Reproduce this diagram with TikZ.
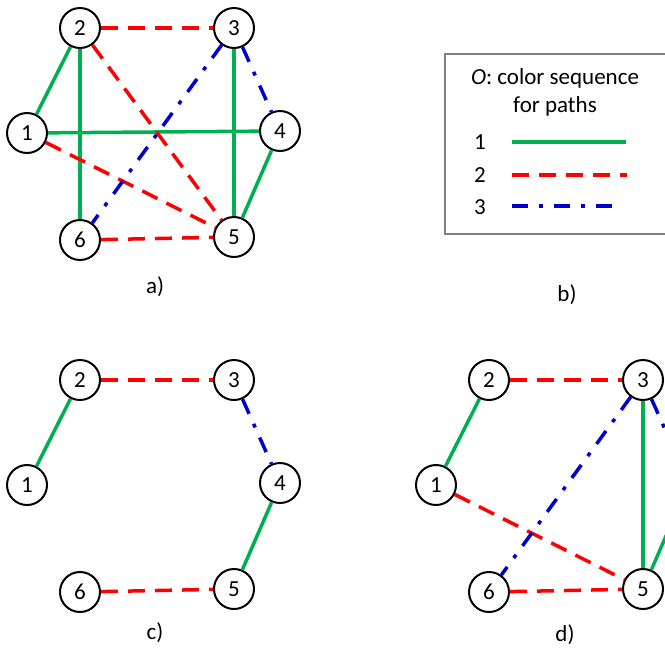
\documentclass[tikz,border=0pt]{standalone}
\usepackage{fontspec}
\setmainfont{Carlito}
\definecolor{pgreen}{RGB}{0,176,80}
\definecolor{pred}{RGB}{255,0,0}
\definecolor{pblue}{RGB}{0,0,204}
\definecolor{pgray}{RGB}{127,127,127}
\begin{document}
\begin{tikzpicture}[x=1pt,y=-1pt,
  vnode/.style={circle,draw=black,line width=2pt,fill=white,minimum size=40pt,inner sep=0pt,font=\fontsize{23}{27}\selectfont},
  lbl/.style={font=\fontsize{23}{27}\selectfont,inner sep=0pt},
  gE/.style={draw=pgreen,line width=3.5pt},
  rE/.style={draw=pred,line width=3.5pt,dash pattern=on 17pt off 10pt},
  bE/.style={draw=pblue,line width=3.5pt,dash pattern=on 16pt off 11pt on 4pt off 11pt}]
\useasboundingbox (0,0) rectangle (665,649);
% panel a
\node[vnode] (a1) at (27,133) {1};
\node[vnode] (a2) at (80,28) {2};
\node[vnode] (a3) at (234,28) {3};
\node[vnode] (a4) at (280,131) {4};
\node[vnode] (a5) at (234,237) {5};
\node[vnode] (a6) at (80,240) {6};
\draw[gE] (a1) -- (a2);
\draw[gE] (a2) -- (a6);
\draw[gE] (a1) -- (a4);
\draw[gE] (a3) -- (a5);
\draw[gE] (a4) -- (a5);
\draw[rE] (a2) -- (a3);
\draw[rE] (a2) -- (a5);
\draw[rE] (a1) -- (a5);
\draw[rE] (a6) -- (a5);
\draw[bE] (a3) -- (a4);
\draw[bE] (a3) -- (a6);
\node[lbl] (la) at (155,287) {a)};
% panel b
\node[draw=pgray,line width=2pt,minimum width=240pt,minimum height=180pt,anchor=north west,inner sep=0pt] (box) at (444,53) {};
\node[lbl] (t1) at (555,78) {\textit{O}: color sequence};
\node[lbl] (t2) at (555,106) {for paths};
\node[lbl] (n1) at (480,142) {1};
\node[lbl] (n2) at (480,175) {2};
\node[lbl] (n3) at (480,207) {3};
\coordinate (l1a) at (512,142); \coordinate (l1b) at (626,142);
\coordinate (l2a) at (512,175); \coordinate (l2b) at (627,175);
\coordinate (l3a) at (512,206); \coordinate (l3b) at (617,206);
\draw[gE] (l1a) -- (l1b);
\draw[rE] (l2a) -- (l2b);
\draw[bE] (l3a) -- (l3b);
\node[lbl] (lb) at (567,295) {b)};
% panel c
\node[vnode] (c1) at (27,485) {1};
\node[vnode] (c2) at (80,380) {2};
\node[vnode] (c3) at (234,380) {3};
\node[vnode] (c4) at (280,483) {4};
\node[vnode] (c5) at (234,589) {5};
\node[vnode] (c6) at (80,592) {6};
\draw[gE] (c1) -- (c2);
\draw[gE] (c4) -- (c5);
\draw[rE] (c2) -- (c3);
\draw[rE] (c6) -- (c5);
\draw[bE] (c3) -- (c4);
\node[lbl] (lc) at (155,633) {c)};
% panel d
\node[vnode] (d1) at (436,485) {1};
\node[vnode] (d2) at (489,380) {2};
\node[vnode] (d3) at (643,380) {3};
\node[vnode] (d4) at (689,483) {};
\node[vnode] (d5) at (643,589) {5};
\node[vnode] (d6) at (489,592) {6};
\draw[gE] (d1) -- (d2);
\draw[gE] (d3) -- (d5);
\draw[gE] (d4) -- (d5);
\draw[rE] (d2) -- (d3);
\draw[rE] (d1) -- (d5);
\draw[rE] (d6) -- (d5);
\draw[bE] (d3) -- (d4);
\draw[bE] (d3) -- (d6);
\node[lbl] (ld) at (565,635) {d)};
\end{tikzpicture}
\end{document}
